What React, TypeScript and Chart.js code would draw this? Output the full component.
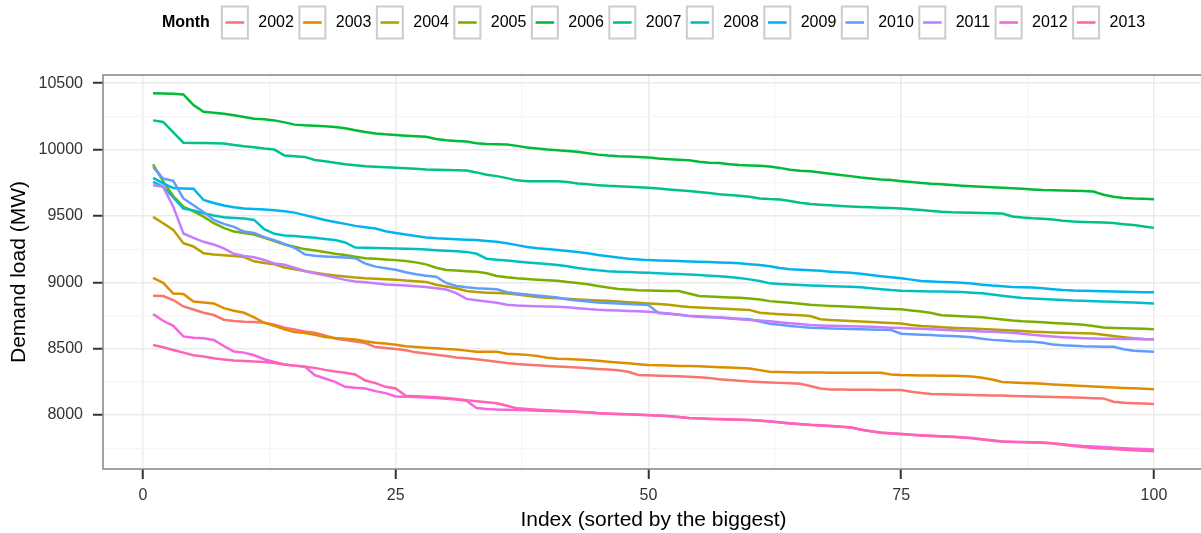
import React, { useEffect, useRef } from "react";
import { Chart, registerables } from "chart.js";

Chart.register(...registerables);

const FONT = "'Liberation Sans', Arial, Helvetica, sans-serif";

const years = ["2002", "2003", "2004", "2005", "2006", "2007", "2008", "2009", "2010", "2011", "2012", "2013"];
const colors = ["#F8766D", "#DE8C00", "#B79F00", "#7CAE00", "#00BA38", "#00C08B", "#00BFC4", "#00B4F0", "#619CFF", "#C77CFF", "#F564E3", "#FF64B0"];

const load2002 = [
  8899, 8896, 8866, 8818, 8795, 8770, 8753, 8718, 8708, 8703,
  8700, 8696, 8680, 8658, 8645, 8630, 8620, 8600, 8577, 8565,
  8553, 8542, 8512, 8505, 8497, 8488, 8472, 8463, 8454, 8444,
  8434, 8428, 8420, 8411, 8402, 8392, 8384, 8379, 8374, 8370,
  8366, 8361, 8357, 8352, 8347, 8342, 8337, 8326, 8302, 8299,
  8296, 8294, 8291, 8289, 8285, 8278, 8270, 8264, 8258, 8252,
  8248, 8245, 8242, 8239, 8236, 8218, 8200, 8193, 8192, 8191,
  8190, 8190, 8189, 8189, 8188, 8175, 8165, 8158, 8156, 8154,
  8152, 8150, 8148, 8147, 8146, 8144, 8142, 8140, 8138, 8136,
  8133, 8131, 8129, 8127, 8125, 8100, 8093, 8089, 8086, 8083,
];
const load2003 = [
  9034, 8996, 8915, 8911, 8855, 8848, 8841, 8805, 8786, 8770,
  8735, 8695, 8672, 8645, 8626, 8618, 8605, 8588, 8580, 8574,
  8568, 8555, 8545, 8538, 8530, 8518, 8512, 8507, 8502, 8498,
  8494, 8485, 8477, 8477, 8476, 8462, 8458, 8453, 8445, 8432,
  8424, 8421, 8418, 8414, 8409, 8402, 8395, 8389, 8382, 8376,
  8374, 8372, 8370, 8369, 8367, 8364, 8360, 8357, 8354, 8351,
  8338, 8326, 8324, 8322, 8321, 8320, 8320, 8319, 8319, 8319,
  8319, 8319, 8318, 8306, 8301, 8299, 8298, 8297, 8296, 8295,
  8294, 8290, 8280, 8268, 8248, 8244, 8241, 8239, 8235, 8230,
  8226, 8222, 8218, 8214, 8210, 8207, 8204, 8201, 8197, 8194,
];
const load2004 = [
  9493, 9445, 9395, 9295, 9270, 9218, 9210, 9204, 9198, 9190,
  9158, 9146, 9135, 9112, 9098, 9085, 9072, 9060, 9052, 9044,
  9036, 9030, 9026, 9023, 9020, 9013, 9008, 9003, 8982, 8968,
  8955, 8935, 8926, 8922, 8919, 8916, 8908, 8898, 8890, 8884,
  8879, 8875, 8871, 8867, 8863, 8860, 8855, 8850, 8845, 8841,
  8836, 8830, 8822, 8814, 8810, 8806, 8802, 8798, 8795, 8792,
  8770, 8764, 8760, 8756, 8752, 8746, 8722, 8716, 8712, 8708,
  8704, 8700, 8697, 8693, 8690, 8678, 8670, 8666, 8662, 8658,
  8654, 8651, 8648, 8645, 8640, 8636, 8632, 8628, 8625, 8622,
  8620, 8618, 8616, 8614, 8605, 8595, 8586, 8578, 8572, 8570,
];
const load2005 = [
  9888, 9760, 9650, 9570, 9535, 9495, 9445, 9410, 9382, 9372,
  9360, 9335, 9310, 9285, 9268, 9250, 9240, 9228, 9215, 9205,
  9192, 9182, 9177, 9172, 9167, 9160, 9150, 9135, 9110, 9092,
  9088, 9084, 9080, 9068, 9048, 9038, 9030, 9025, 9020, 9015,
  9011, 9002, 8995, 8985, 8972, 8960, 8950, 8945, 8940, 8938,
  8936, 8935, 8934, 8915, 8896, 8892, 8889, 8886, 8883, 8878,
  8871, 8858, 8852, 8845, 8838, 8830, 8826, 8822, 8819, 8816,
  8812, 8808, 8803, 8799, 8796, 8788, 8780, 8768, 8752, 8748,
  8744, 8740, 8737, 8728, 8720, 8712, 8706, 8702, 8698, 8694,
  8690, 8686, 8680, 8670, 8660, 8656, 8653, 8651, 8649, 8647,
];
const load2006 = [
  10425, 10422, 10420, 10415, 10335, 10285, 10278, 10270, 10258, 10245,
  10232, 10228, 10220, 10205, 10188, 10183, 10180, 10175, 10170, 10160,
  10145, 10132, 10122, 10115, 10110, 10105, 10100, 10096, 10080, 10070,
  10065, 10060, 10048, 10042, 10040, 10038, 10028, 10015, 10008, 10000,
  9995, 9990, 9983, 9972, 9962, 9955, 9950, 9948, 9945, 9940,
  9932, 9928, 9924, 9920, 9908, 9900, 9898, 9890, 9883, 9880,
  9878, 9872, 9862, 9848, 9840, 9836, 9828, 9818, 9808, 9800,
  9790, 9782, 9775, 9770, 9762, 9755, 9748, 9742, 9738, 9733,
  9728, 9724, 9720, 9716, 9712, 9708, 9704, 9700, 9696, 9694,
  9692, 9690, 9688, 9684, 9660, 9644, 9636, 9632, 9630, 9626,
];
const load2007 = [
  10220, 10208, 10130, 10052, 10050, 10050, 10048, 10045, 10035, 10025,
  10018, 10008, 10000, 9955, 9950, 9945, 9922, 9912, 9900, 9890,
  9882, 9875, 9870, 9866, 9863, 9860, 9856, 9850, 9848, 9846,
  9845, 9843, 9828, 9810, 9800, 9785, 9768, 9762, 9762, 9762,
  9761, 9755, 9745, 9738, 9732, 9727, 9724, 9720, 9716, 9713,
  9706, 9700, 9694, 9688, 9681, 9672, 9664, 9658, 9652, 9645,
  9632, 9627, 9624, 9612, 9600, 9590, 9585, 9580, 9575, 9571,
  9568, 9565, 9562, 9559, 9556, 9550, 9544, 9538, 9532, 9528,
  9526, 9524, 9522, 9520, 9518, 9496, 9488, 9482, 9478, 9474,
  9463, 9458, 9455, 9453, 9451, 9446, 9438, 9431, 9420, 9410,
];
const load2008 = [
  9757, 9720, 9640, 9556, 9542, 9520, 9504, 9490, 9485, 9480,
  9470, 9400, 9365, 9352, 9348, 9342, 9335, 9326, 9318, 9300,
  9262, 9260, 9258, 9257, 9255, 9253, 9250, 9247, 9242, 9238,
  9234, 9229, 9215, 9178, 9170, 9164, 9156, 9150, 9144, 9138,
  9130, 9120, 9108, 9098, 9090, 9084, 9080, 9077, 9074, 9071,
  9068, 9065, 9062, 9058, 9054, 9050, 9045, 9040, 9032, 9022,
  9010, 8992, 8988, 8984, 8980, 8976, 8973, 8971, 8969, 8967,
  8962, 8955, 8948, 8941, 8936, 8934, 8932, 8931, 8930, 8929,
  8926, 8922, 8917, 8908, 8898, 8890, 8882, 8878, 8874, 8870,
  8866, 8862, 8860, 8858, 8856, 8853, 8850, 8847, 8844, 8841,
];
const load2009 = [
  9787, 9745, 9710, 9707, 9705, 9620, 9598, 9578, 9566, 9556,
  9552, 9548, 9543, 9535, 9525, 9506, 9488, 9470, 9455, 9440,
  9425, 9415, 9405, 9385, 9372, 9360, 9348, 9338, 9332, 9328,
  9324, 9321, 9318, 9312, 9306, 9294, 9280, 9266, 9256, 9250,
  9244, 9236, 9228, 9218, 9205, 9196, 9186, 9178, 9172, 9167,
  9164, 9162, 9160, 9157, 9154, 9152, 9150, 9148, 9143, 9136,
  9130, 9120, 9108, 9098, 9094, 9090, 9086, 9080, 9075, 9071,
  9064, 9055, 9046, 9038, 9030, 9020, 9010, 9006, 9003, 9000,
  8997, 8990, 8982, 8975, 8970, 8965, 8963, 8961, 8955, 8948,
  8942, 8938, 8936, 8934, 8932, 8930, 8928, 8926, 8925, 8924,
];
const load2010 = [
  9870, 9782, 9764, 9632, 9580, 9530, 9470, 9440, 9418, 9382,
  9372, 9340, 9318, 9290, 9260, 9210, 9200, 9195, 9190, 9186,
  9182, 9140, 9118, 9105, 9095, 9075, 9060, 9050, 9042, 8995,
  8972, 8962, 8955, 8951, 8948, 8925, 8916, 8908, 8900, 8893,
  8885, 8870, 8862, 8855, 8848, 8844, 8840, 8836, 8832, 8828,
  8768, 8762, 8755, 8745, 8740, 8737, 8734, 8730, 8726, 8722,
  8705, 8688, 8680, 8670, 8664, 8658, 8655, 8652, 8650, 8648,
  8646, 8644, 8642, 8640, 8612, 8608, 8605, 8602, 8598, 8595,
  8591, 8585, 8575, 8566, 8562, 8555, 8553, 8552, 8545, 8532,
  8526, 8522, 8518, 8516, 8515, 8514, 8495, 8484, 8480, 8477,
];
const load2011 = [
  9732, 9719, 9570, 9368, 9335, 9305, 9285, 9255, 9215, 9198,
  9188, 9168, 9142, 9132, 9110, 9085, 9068, 9052, 9035, 9018,
  9006, 9000, 8992, 8983, 8979, 8975, 8970, 8964, 8955, 8945,
  8918, 8875, 8865, 8855, 8845, 8830, 8825, 8822, 8820, 8818,
  8816, 8812, 8805, 8798, 8793, 8790, 8787, 8784, 8781, 8778,
  8772, 8765, 8757, 8748, 8744, 8740, 8735, 8728, 8722, 8716,
  8712, 8706, 8698, 8692, 8686, 8678, 8675, 8672, 8670, 8668,
  8666, 8664, 8661, 8658, 8655, 8652, 8649, 8646, 8642, 8638,
  8635, 8632, 8630, 8628, 8624, 8620, 8612, 8604, 8598, 8592,
  8586, 8582, 8579, 8577, 8575, 8574, 8573, 8572, 8571, 8570,
];
const load2012 = [
  8760, 8710, 8672, 8592, 8582, 8578, 8565, 8520, 8478, 8470,
  8450, 8420, 8400, 8380, 8372, 8365, 8300, 8275, 8250, 8212,
  8205, 8200, 8180, 8165, 8140, 8138, 8136, 8132, 8128, 8122,
  8116, 8108, 8052, 8046, 8042, 8040, 8038, 8035, 8032, 8030,
  8028, 8026, 8022, 8018, 8014, 8010, 8008, 8005, 8002, 7998,
  7994, 7990, 7985, 7978, 7975, 7972, 7970, 7967, 7964, 7962,
  7958, 7952, 7945, 7938, 7932, 7926, 7922, 7918, 7912, 7906,
  7890, 7878, 7868, 7862, 7857, 7852, 7847, 7843, 7840, 7837,
  7832, 7826, 7818, 7810, 7800, 7798, 7797, 7795, 7792, 7788,
  7780, 7772, 7766, 7762, 7758, 7754, 7750, 7746, 7743, 7740,
];
const load2013 = [
  8527, 8510, 8490, 8470, 8450, 8440, 8428, 8418, 8410, 8406,
  8403, 8400, 8392, 8380, 8372, 8364, 8355, 8340, 8328, 8318,
  8305, 8260, 8240, 8212, 8200, 8145, 8142, 8138, 8134, 8128,
  8120, 8112, 8104, 8096, 8088, 8070, 8050, 8045, 8040, 8036,
  8032, 8029, 8025, 8020, 8015, 8012, 8008, 8005, 8002, 8000,
  7996, 7992, 7984, 7977, 7974, 7970, 7968, 7966, 7964, 7962,
  7956, 7950, 7944, 7936, 7930, 7925, 7920, 7916, 7911, 7907,
  7888, 7878, 7866, 7860, 7856, 7851, 7846, 7842, 7838, 7835,
  7830, 7824, 7816, 7806, 7800, 7796, 7794, 7792, 7790, 7786,
  7776, 7766, 7758, 7752, 7747, 7743, 7738, 7734, 7730, 7726,
];

const seriesValues = [load2002, load2003, load2004, load2005, load2006, load2007, load2008, load2009, load2010, load2011, load2012, load2013];

const xTickValues = [0, 12.5, 25, 37.5, 50, 62.5, 75, 87.5, 100];
const xMajorTicks = [0, 25, 50, 75, 100];
const yTickValues = [7750, 8000, 8250, 8500, 8750, 9000, 9250, 9500, 9750, 10000, 10250, 10500];
const yMajorTicks = [8000, 8500, 9000, 9500, 10000, 10500];

const legendTitle = "Month";
const xTitle = "Index (sorted by the biggest)";
const yTitle = "Demand load (MW)";

const legendPlugin = {
  id: "ggLegend",
  afterDraw(chart: any) {
    const ctx = chart.ctx;
    const ca = chart.chartArea;
    const cy = 22.5;
    ctx.save();
    ctx.font = `bold 16px ${FONT}`;
    const titleW = ctx.measureText(legendTitle).width;
    ctx.font = `16px ${FONT}`;
    const labelWs = years.map((y) => ctx.measureText(y).width);
    const boxW = 28, boxH = 34, gapTitle = 11, gapLabel = 9.4, gapItem = 4.5;
    let total = titleW + gapTitle;
    labelWs.forEach((w, i) => {
      total += boxW + gapLabel + w + (i < labelWs.length - 1 ? gapItem : 0);
    });
    let x = 653.5 - total / 2;
    ctx.textBaseline = "middle";
    ctx.textAlign = "left";
    ctx.fillStyle = "#000";
    ctx.font = `bold 16px ${FONT}`;
    ctx.fillText(legendTitle, x, cy);
    x += titleW + gapTitle;
    ctx.font = `16px ${FONT}`;
    years.forEach((y, i) => {
      ctx.fillStyle = "#fff";
      ctx.fillRect(x, cy - boxH / 2, boxW, boxH);
      ctx.strokeStyle = "#CCCCCC";
      ctx.lineWidth = 2;
      ctx.strokeRect(x + 1, cy - boxH / 2 + 1, boxW - 2, boxH - 2);
      ctx.strokeStyle = colors[i];
      ctx.lineWidth = 2.6;
      ctx.beginPath();
      ctx.moveTo(x + 4.7, cy);
      ctx.lineTo(x + boxW - 4.7, cy);
      ctx.stroke();
      ctx.fillStyle = "#000";
      ctx.fillText(y, x + boxW + gapLabel, cy);
      x += boxW + gapLabel + labelWs[i] + gapItem;
    });
    // panel border
    ctx.strokeStyle = "#8A8A8A";
    ctx.lineWidth = 1.6;
    ctx.strokeRect(ca.left, ca.top, ca.right - ca.left, ca.bottom - ca.top);
    ctx.restore();
  },
};

export default function App() {
  const canvasRef = useRef<HTMLCanvasElement | null>(null);

  useEffect(() => {
    const canvas = canvasRef.current;
    if (!canvas) return;
    const datasets = years.map((y, i) => ({
      label: y,
      data: seriesValues[i].map((v, k) => ({ x: k + 1, y: v })),
      borderColor: colors[i],
      backgroundColor: colors[i],
      borderWidth: 2.5,
      pointRadius: 0,
      tension: 0,
      fill: false,
      order: years.length - 1 - i,
    }));
    const chart = new Chart(canvas, {
      type: "line",
      data: { datasets },
      options: {
        responsive: false,
        animation: false,
        layout: { padding: { top: 75, right: 11, left: 0, bottom: 0 } },
        plugins: { legend: { display: false }, tooltip: { enabled: false } },
        scales: {
          x: {
            type: "linear",
            min: -3.95,
            max: 104.95,
            afterBuildTicks: (s: any) => {
              s.ticks = xTickValues.map((v) => ({ value: v }));
            },
            afterFit: (s: any) => {
              s.height = 64;
            },
            border: { display: false },
            grid: {
              color: (c: any) => (xMajorTicks.includes(c.tick?.value) ? "#EBEBEB" : "#F5F5F5"),
              lineWidth: (c: any) => (xMajorTicks.includes(c.tick?.value) ? 1.5 : 1.2),
              drawTicks: true,
              tickLength: 10,
              tickWidth: 2,
              tickColor: (c: any) => (xMajorTicks.includes(c.tick?.value) ? "#333333" : "rgba(0,0,0,0)"),
            },
            ticks: {
              autoSkip: false,
              maxRotation: 0,
              padding: 7,
              color: "#333333",
              font: { family: FONT, size: 16 },
              callback: (v: any) => (xMajorTicks.includes(v) ? String(v) : ""),
            },
            title: {
              display: true,
              text: xTitle,
              color: "#000",
              font: { family: FONT, size: 21 },
              padding: { top: 0, bottom: 0 },
            },
          },
          y: {
            type: "linear",
            min: 7593,
            max: 10562,
            afterBuildTicks: (s: any) => {
              s.ticks = yTickValues.map((v) => ({ value: v }));
            },
            afterFit: (s: any) => {
              s.width = 103;
            },
            border: { display: false },
            grid: {
              color: (c: any) => (yMajorTicks.includes(c.tick?.value) ? "#EBEBEB" : "#F5F5F5"),
              lineWidth: (c: any) => (yMajorTicks.includes(c.tick?.value) ? 1.5 : 1.2),
              drawTicks: true,
              tickLength: 10,
              tickWidth: 2,
              tickColor: (c: any) => (yMajorTicks.includes(c.tick?.value) ? "#333333" : "rgba(0,0,0,0)"),
            },
            ticks: {
              autoSkip: false,
              padding: 10,
              color: "#333333",
              font: { family: FONT, size: 16 },
              callback: (v: any) => (yMajorTicks.includes(v) ? String(v) : ""),
            },
            title: {
              display: true,
              text: yTitle,
              color: "#000",
              font: { family: FONT, size: 21 },
              padding: { top: 7, bottom: 0 },
            },
          },
        },
      },
      plugins: [legendPlugin],
    } as any);
    return () => chart.destroy();
  }, []);

  return (
    <div style={{ position: "fixed", left: 0, top: 0, width: 1201, height: 533, overflow: "hidden", background: "#fff" }}>
      <canvas ref={canvasRef} width={1215} height={533} style={{ display: "block", width: 1215, height: 533 }} />
    </div>
  );
}
